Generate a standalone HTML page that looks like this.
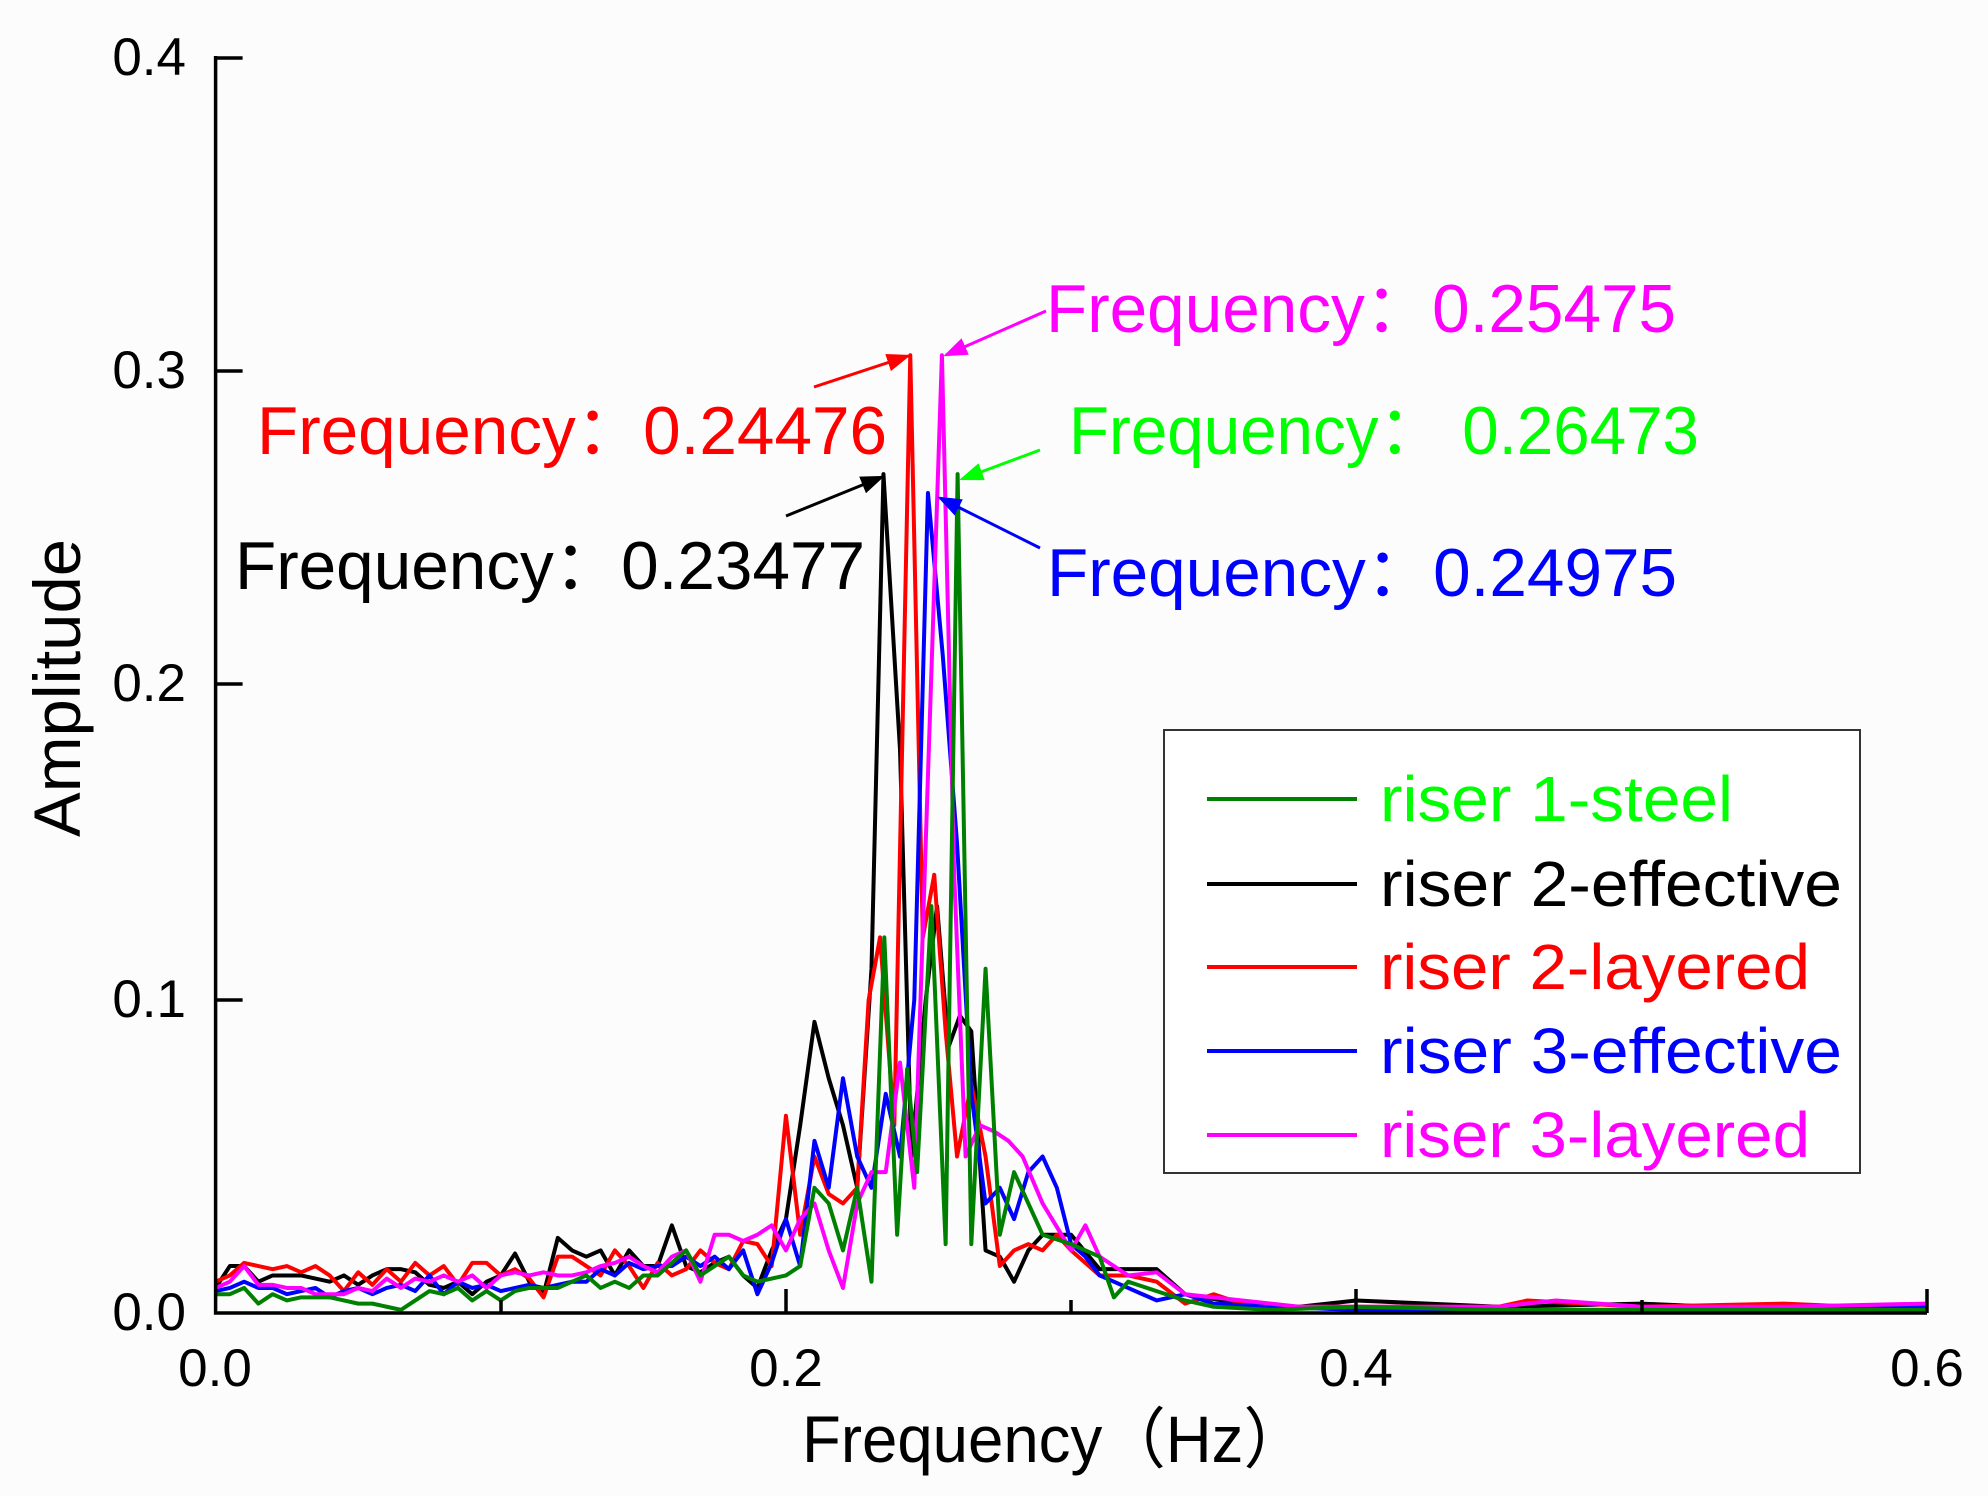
<!DOCTYPE html>
<html><head><meta charset="utf-8"><style>
html,body{margin:0;padding:0;background:#fff}
svg{display:block}
text{font-family:"Liberation Sans","Noto Sans CJK SC",sans-serif}
</style></head><body>
<svg width="1988" height="1496" viewBox="0 0 1988 1496" xmlns="http://www.w3.org/2000/svg">
<rect width="1988" height="1496" fill="#fcfcfc"/>
<defs>
<marker id="ar" markerWidth="8" markerHeight="8" refX="7" refY="4" orient="auto" markerUnits="strokeWidth"><path d="M0,1 L8,4 L0,7 z" fill="context-stroke"/></marker>
</defs>
<g transform="translate(215.6,1313) scale(2851.7,-3130)" fill="none" stroke-width="4" stroke-linejoin="round">
<polyline vector-effect="non-scaling-stroke" stroke="#000" points="0,0.008 0.005,0.015 0.01,0.015 0.015,0.01 0.02,0.012 0.03,0.012 0.04,0.01 0.045,0.012 0.05,0.009 0.055,0.012 0.06,0.014 0.065,0.014 0.07,0.013 0.075,0.009 0.08,0.008 0.085,0.01 0.09,0.006 0.095,0.01 0.1,0.012 0.105,0.019 0.11,0.01 0.115,0.006 0.12,0.024 0.125,0.02 0.13,0.018 0.135,0.02 0.14,0.012 0.145,0.02 0.15,0.015 0.155,0.015 0.16,0.028 0.165,0.015 0.17,0.013 0.175,0.016 0.18,0.018 0.185,0.012 0.19,0.008 0.195,0.02 0.2,0.03 0.205,0.06 0.21,0.093 0.215,0.075 0.22,0.06 0.225,0.04 0.23,0.11 0.2342,0.268 0.24,0.18 0.244,0.05 0.249,0.1 0.253,0.13 0.257,0.085 0.261,0.095 0.265,0.09 0.27,0.02 0.275,0.018 0.28,0.01 0.285,0.02 0.29,0.025 0.3,0.025 0.31,0.014 0.33,0.014 0.34,0.006 0.36,0.003 0.38,0.002 0.4,0.004 0.45,0.002 0.5,0.003 0.55,0.001 0.6,0.001"/>
<polyline vector-effect="non-scaling-stroke" stroke="#f00" points="0,0.01 0.005,0.012 0.01,0.016 0.015,0.015 0.02,0.014 0.025,0.015 0.03,0.013 0.035,0.015 0.04,0.012 0.045,0.007 0.05,0.013 0.055,0.009 0.06,0.014 0.065,0.01 0.07,0.016 0.075,0.012 0.08,0.015 0.085,0.009 0.09,0.016 0.095,0.016 0.1,0.012 0.105,0.014 0.11,0.011 0.115,0.005 0.12,0.018 0.125,0.018 0.13,0.015 0.135,0.012 0.14,0.02 0.145,0.015 0.15,0.008 0.155,0.016 0.16,0.012 0.165,0.014 0.17,0.02 0.175,0.016 0.18,0.014 0.185,0.023 0.19,0.022 0.195,0.015 0.2,0.063 0.205,0.025 0.21,0.05 0.215,0.038 0.22,0.035 0.225,0.04 0.229,0.1 0.233,0.12 0.238,0.06 0.2436,0.306 0.248,0.12 0.252,0.14 0.256,0.09 0.26,0.05 0.265,0.073 0.27,0.05 0.275,0.015 0.28,0.02 0.285,0.022 0.29,0.02 0.295,0.025 0.3,0.02 0.31,0.012 0.32,0.012 0.33,0.01 0.34,0.003 0.35,0.006 0.36,0.003 0.38,0.002 0.4,0.002 0.45,0.002 0.46,0.004 0.5,0.002 0.55,0.003 0.6,0.001"/>
<polyline vector-effect="non-scaling-stroke" stroke="#00f" points="0,0.007 0.005,0.008 0.01,0.01 0.015,0.008 0.02,0.008 0.025,0.006 0.03,0.007 0.035,0.008 0.04,0.005 0.045,0.007 0.05,0.008 0.055,0.006 0.06,0.008 0.065,0.009 0.07,0.007 0.075,0.012 0.08,0.006 0.085,0.01 0.09,0.008 0.095,0.009 0.1,0.007 0.105,0.008 0.11,0.009 0.115,0.008 0.12,0.009 0.125,0.01 0.13,0.01 0.135,0.014 0.14,0.012 0.145,0.016 0.15,0.014 0.155,0.015 0.16,0.015 0.165,0.018 0.17,0.015 0.175,0.018 0.18,0.014 0.185,0.02 0.19,0.006 0.195,0.016 0.2,0.03 0.205,0.015 0.21,0.055 0.215,0.04 0.22,0.075 0.225,0.05 0.23,0.04 0.235,0.07 0.24,0.05 0.245,0.1 0.2498,0.262 0.255,0.21 0.26,0.15 0.265,0.07 0.27,0.035 0.275,0.04 0.28,0.03 0.285,0.045 0.29,0.05 0.295,0.04 0.3,0.022 0.305,0.018 0.31,0.012 0.32,0.008 0.33,0.004 0.34,0.006 0.35,0.003 0.37,0.002 0.4,0.001 0.45,0.001 0.5,0.001 0.55,0.001 0.6,0.002"/>
<polyline vector-effect="non-scaling-stroke" stroke="#f0f" points="0,0.008 0.005,0.01 0.01,0.015 0.015,0.009 0.02,0.009 0.025,0.008 0.03,0.008 0.035,0.006 0.04,0.006 0.045,0.006 0.05,0.008 0.055,0.007 0.06,0.011 0.065,0.008 0.07,0.011 0.075,0.01 0.08,0.012 0.085,0.01 0.09,0.012 0.095,0.008 0.1,0.012 0.105,0.013 0.11,0.012 0.115,0.013 0.12,0.012 0.125,0.012 0.13,0.013 0.135,0.015 0.14,0.016 0.145,0.018 0.15,0.015 0.155,0.013 0.16,0.018 0.165,0.02 0.17,0.01 0.175,0.025 0.18,0.025 0.185,0.023 0.19,0.025 0.195,0.028 0.2,0.02 0.205,0.03 0.21,0.035 0.215,0.02 0.22,0.008 0.225,0.035 0.23,0.045 0.235,0.045 0.24,0.08 0.245,0.04 0.2547,0.306 0.259,0.14 0.263,0.05 0.268,0.06 0.273,0.058 0.278,0.055 0.283,0.05 0.29,0.035 0.3,0.02 0.305,0.028 0.31,0.018 0.32,0.012 0.33,0.013 0.34,0.006 0.35,0.005 0.36,0.004 0.38,0.002 0.4,0.002 0.45,0.002 0.47,0.004 0.5,0.002 0.55,0.002 0.6,0.003"/>
<polyline vector-effect="non-scaling-stroke" stroke="#008000" points="0,0.006 0.005,0.006 0.01,0.008 0.015,0.003 0.02,0.006 0.025,0.004 0.03,0.005 0.035,0.005 0.04,0.005 0.045,0.004 0.05,0.003 0.055,0.003 0.06,0.002 0.065,0.001 0.07,0.004 0.075,0.007 0.08,0.006 0.085,0.008 0.09,0.004 0.095,0.007 0.1,0.004 0.105,0.007 0.11,0.008 0.115,0.008 0.12,0.008 0.125,0.01 0.13,0.012 0.135,0.008 0.14,0.01 0.145,0.008 0.15,0.012 0.155,0.012 0.16,0.016 0.165,0.02 0.17,0.012 0.175,0.015 0.18,0.018 0.185,0.012 0.19,0.01 0.2,0.012 0.205,0.015 0.21,0.04 0.215,0.035 0.22,0.02 0.225,0.04 0.23,0.01 0.2345,0.12 0.239,0.025 0.2425,0.078 0.246,0.045 0.251,0.13 0.256,0.022 0.2602,0.268 0.265,0.022 0.27,0.11 0.275,0.025 0.28,0.045 0.285,0.035 0.29,0.025 0.3,0.022 0.31,0.018 0.315,0.005 0.32,0.01 0.33,0.007 0.34,0.004 0.35,0.002 0.37,0.001 0.4,0.002 0.45,0.001 0.5,0.001 0.55,0.001 0.6,0.001"/>
</g>
<g stroke="#000" stroke-width="3.5" fill="none">
<path d="M215.6,56 L215.6,1313 L1927,1313"/>
<path d="M215.6,58 h27 M215.6,371 h27 M215.6,684 h27 M215.6,1000 h27"/>
<path d="M786,1313 v-24 M1356,1313 v-24 M1927,1313 v-24 M501,1313 v-13 M1071,1313 v-13 M1642,1313 v-13"/>
</g>
<g font-size="53" fill="#000" text-anchor="end">
<text x="186" y="75">0.4</text>
<text x="186" y="388">0.3</text>
<text x="186" y="701">0.2</text>
<text x="186" y="1017">0.1</text>
<text x="186" y="1330">0.0</text>
</g>
<g font-size="53" fill="#000" text-anchor="middle">
<text x="215" y="1386">0.0</text>
<text x="786" y="1386">0.2</text>
<text x="1356" y="1386">0.4</text>
<text x="1927" y="1386">0.6</text>
</g>
<text x="802" y="1462" font-size="66" textLength="505" lengthAdjust="spacingAndGlyphs">Frequency（Hz）</text>
<text transform="translate(80,688) rotate(-90)" font-size="66" text-anchor="middle" textLength="298" lengthAdjust="spacingAndGlyphs">Amplitude</text>
<g font-size="68">
<text x="1046" y="332" fill="#f0f" textLength="630" lengthAdjust="spacingAndGlyphs">Frequency：0.25475</text>
<text x="257" y="454" fill="#f00" textLength="630" lengthAdjust="spacingAndGlyphs">Frequency：0.24476</text>
<text x="1069" y="454" fill="#0f0" textLength="630" lengthAdjust="spacingAndGlyphs">Frequency： 0.26473</text>
<text x="235" y="589" fill="#000" textLength="630" lengthAdjust="spacingAndGlyphs">Frequency：0.23477</text>
<text x="1047" y="596" fill="#00f" textLength="630" lengthAdjust="spacingAndGlyphs">Frequency：0.24975</text>
</g>
<g stroke-width="3" fill="none">
<line x1="814" y1="387" x2="908" y2="356" stroke="#f00" marker-end="url(#ar)"/>
<line x1="1046" y1="311" x2="946" y2="355" stroke="#f0f" marker-end="url(#ar)"/>
<line x1="786" y1="516" x2="882" y2="477" stroke="#000" marker-end="url(#ar)"/>
<line x1="1040" y1="450" x2="962" y2="479" stroke="#0f0" marker-end="url(#ar)"/>
<line x1="1040" y1="548" x2="940" y2="498" stroke="#00f" marker-end="url(#ar)"/>
</g>
<rect x="1164" y="730" width="696" height="443" fill="#fff" stroke="#333" stroke-width="2"/>
<g stroke-width="4">
<line x1="1207" y1="799" x2="1357" y2="799" stroke="#008000"/>
<line x1="1207" y1="884" x2="1357" y2="884" stroke="#000"/>
<line x1="1207" y1="967" x2="1357" y2="967" stroke="#f00"/>
<line x1="1207" y1="1051" x2="1357" y2="1051" stroke="#00f"/>
<line x1="1207" y1="1135" x2="1357" y2="1135" stroke="#f0f"/>
</g>
<g font-size="64">
<text x="1380" y="821" fill="#0f0" textLength="353" lengthAdjust="spacingAndGlyphs">riser 1-steel</text>
<text x="1380" y="906" fill="#000" textLength="462" lengthAdjust="spacingAndGlyphs">riser 2-effective</text>
<text x="1380" y="989" fill="#f00" textLength="430" lengthAdjust="spacingAndGlyphs">riser 2-layered</text>
<text x="1380" y="1073" fill="#00f" textLength="462" lengthAdjust="spacingAndGlyphs">riser 3-effective</text>
<text x="1380" y="1157" fill="#f0f" textLength="430" lengthAdjust="spacingAndGlyphs">riser 3-layered</text>
</g>
</svg>
</body></html>
